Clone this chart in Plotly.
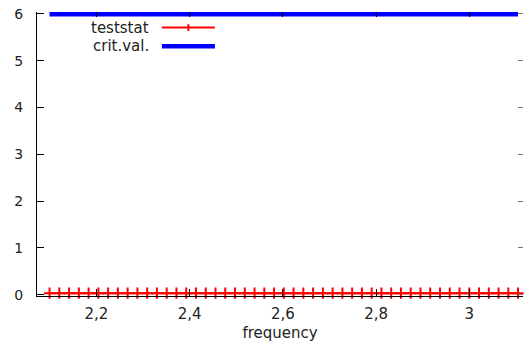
import plotly.graph_objects as go

frequency = [2.0994, 2.1204, 2.1413, 2.1623, 2.1832, 2.2042, 2.2251, 2.2461, 2.2670, 2.2880,
             2.3089, 2.3298, 2.3508, 2.3717, 2.3927, 2.4136, 2.4346, 2.4555, 2.4764, 2.4974,
             2.5183, 2.5393, 2.5602, 2.5812, 2.6021, 2.6230, 2.6440, 2.6649, 2.6859, 2.7068,
             2.7278, 2.7487, 2.7696, 2.7906, 2.8115, 2.8325, 2.8534, 2.8744, 2.8953, 2.9162,
             2.9372, 2.9581, 2.9791, 3.0000, 3.0209, 3.0419, 3.0628, 3.0838, 3.1047]
teststat = [0.03, 0.03, 0.03, 0.03, 0.03, 0.03, 0.03, 0.03, 0.03, 0.03,
            0.03, 0.03, 0.03, 0.03, 0.03, 0.03, 0.03, 0.03, 0.03, 0.03,
            0.03, 0.03, 0.03, 0.03, 0.03, 0.03, 0.03, 0.03, 0.03, 0.03,
            0.03, 0.03, 0.03, 0.03, 0.03, 0.03, 0.03, 0.03, 0.03, 0.03,
            0.03, 0.03, 0.03, 0.03, 0.03, 0.03, 0.03, 0.03, 0.03]
crit_val = [5.9915, 5.9915, 5.9915, 5.9915, 5.9915, 5.9915, 5.9915, 5.9915, 5.9915, 5.9915,
            5.9915, 5.9915, 5.9915, 5.9915, 5.9915, 5.9915, 5.9915, 5.9915, 5.9915, 5.9915,
            5.9915, 5.9915, 5.9915, 5.9915, 5.9915, 5.9915, 5.9915, 5.9915, 5.9915, 5.9915,
            5.9915, 5.9915, 5.9915, 5.9915, 5.9915, 5.9915, 5.9915, 5.9915, 5.9915, 5.9915,
            5.9915, 5.9915, 5.9915, 5.9915, 5.9915, 5.9915, 5.9915, 5.9915, 5.9915]
x_ticks = [2.2, 2.4, 2.6, 2.8, 3.0]
y_ticks = [0, 1, 2, 3, 4, 5, 6]
series_names = ["teststat", "crit.val."]

FONT = "DejaVu Sans"
XR = [2.0725, 3.1153]
YR = [-0.03, 6.04]

fig = go.Figure()
fig.add_trace(go.Scatter(
    x=frequency, y=crit_val, mode="lines", name=series_names[1],
    line=dict(color="#0000ff", width=4.5), showlegend=False))
fig.add_trace(go.Scatter(
    x=frequency, y=teststat, mode="lines+markers", name=series_names[0],
    line=dict(color="#ff0000", width=2),
    marker=dict(symbol="cross-thin", size=8, line=dict(color="#ff0000", width=2)),
    cliponaxis=False, showlegend=False))
# invisible trace to anchor mirrored tick axes
fig.add_trace(go.Scatter(x=[XR[0]], y=[YR[0]], xaxis="x2", yaxis="y2",
                         mode="markers", marker=dict(opacity=0), showlegend=False,
                         hoverinfo="skip"))

fig.update_layout(
    width=526, height=346,
    margin=dict(l=37, r=3, t=12, b=50),
    paper_bgcolor="white", plot_bgcolor="white",
    separators=", ",
    font=dict(family=FONT, size=14, color="#222222"),
    xaxis=dict(range=XR, tickvals=x_ticks, ticks="inside", ticklen=7, tickcolor="black",
               showline=True, linecolor="black", linewidth=1, showgrid=False, zeroline=False,
               ticklabelstandoff=4, tickfont=dict(family=FONT, size=15),
               title=dict(text="frequency", standoff=5, font=dict(family=FONT, size=15))),
    yaxis=dict(range=YR, tickvals=y_ticks, ticks="inside", ticklen=7, tickcolor="black",
               showline=True, linecolor="black", linewidth=1, showgrid=False, zeroline=False,
               ticklabelstandoff=10, tickfont=dict(family=FONT, size=14)),
    xaxis2=dict(range=XR, overlaying="x", side="top", tickvals=x_ticks, ticks="inside",
                ticklen=5, tickcolor="black", showticklabels=False, showline=False,
                showgrid=False, zeroline=False),
    yaxis2=dict(range=YR, overlaying="y", side="right", tickvals=y_ticks, ticks="inside",
                ticklen=5, tickcolor="#777777", showticklabels=False, showline=False,
                showgrid=False, zeroline=False),
)

# gnuplot-style key: text on the left, sample on the right
key_rows = [(0.945, "#ff0000", 2, True), (0.879, "#0000ff", 4.5, False)]
for name, (yp, col, w, mark) in zip(series_names, key_rows):
    fig.add_annotation(x=0.232, y=yp, xref="paper", yref="paper", text=name,
                       showarrow=False, xanchor="right", yanchor="middle", borderpad=0,
                       font=dict(family=FONT, size=15, color="#222222"))
    fig.add_shape(type="line", xref="paper", yref="paper", x0=0.257, x1=0.366, y0=yp, y1=yp,
                  line=dict(color=col, width=w))
    if mark:
        fig.add_shape(type="line", xref="paper", yref="paper", x0=0.3115, x1=0.3115,
                      y0=yp - 0.012, y1=yp + 0.012, line=dict(color=col, width=2))

fig.write_html("out.html")
